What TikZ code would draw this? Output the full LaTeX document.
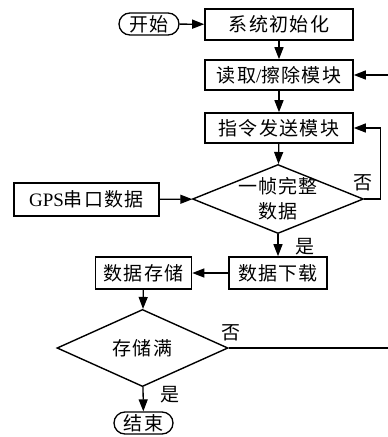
\documentclass[tikz,border=0pt]{standalone}
\usepackage{fontspec}
\setmainfont{Liberation Serif}
\newfontfamily\cjk[LetterSpace=7]{Noto Sans CJK SC}
\usetikzlibrary{shapes.geometric,arrows.meta}
\begin{document}
\begin{tikzpicture}[x=1pt,y=-1pt,
  every node/.style={font=\cjk\fontsize{19}{25}\selectfont},
  box/.style={draw,line width=1.6pt,minimum height=31pt,inner sep=0pt},
  term/.style={draw,line width=1.3pt,rounded corners=11pt,minimum height=22pt,inner sep=0pt},
  decision/.style={draw,diamond,line width=1.4pt,inner sep=0pt,minimum width=171pt,minimum height=69pt},
  lbl/.style={inner sep=0pt},
  conn/.style={line width=1.3pt,-{Triangle[length=12pt,width=9pt]}},
  plain/.style={line width=1.3pt}]
\useasboundingbox (0,0) rectangle (388,437);
\node[term,minimum width=60pt] (start) at (149,24) {开始};
\node[box,minimum width=148pt] (init) at (279,24.5) {系统初始化};
\node[box,minimum width=148pt,minimum height=30pt] (read) at (279,75) {读取{\rmfamily/}擦除模块};
\node[box,minimum width=148pt,minimum height=30pt] (cmd) at (279,128) {指令发送模块};
\node[decision,label={[align=center,inner sep=0pt]center:一帧完整\\数据}] (dia) at (278,199) {};
\node[box,minimum width=145pt,minimum height=33pt] (gps) at (86.5,199.5) {{\rmfamily GPS}串口数据};
\node[box,minimum width=98pt,minimum height=32pt] (dl) at (278,273) {数据下载};
\node[box,minimum width=96pt,minimum height=32pt] (store) at (143.5,273) {数据存储};
\node[decision] (full) at (142.5,348) {存储满};
\node[term,minimum width=59pt] (end) at (143.5,423) {结束};
\coordinate (r1) at (380.5,199);
\coordinate (r2) at (392,348);
\draw[conn] (start) -- (init);
\draw[conn] (init) -- (read);
\draw[conn] (read) -- (cmd);
\draw[conn] (cmd) -- (dia);
\draw[conn] (gps) -- (dia);
\draw[conn] (dia.east) -- (r1) |- (cmd.east);
\draw[conn] (dia) -- (dl);
\draw[conn] (dl) -- (store);
\draw[conn] (store) -- (full);
\draw[conn] (full) -- (end);
\draw[conn] (full.east) -- (r2) |- (read.east);
\node[lbl] (no1) at (363,183) {否};
\node[lbl] (yes1) at (305,247) {是};
\node[lbl] (no2) at (231,333) {否};
\node[lbl] (yes2) at (170,395) {是};
\end{tikzpicture}
\end{document}
